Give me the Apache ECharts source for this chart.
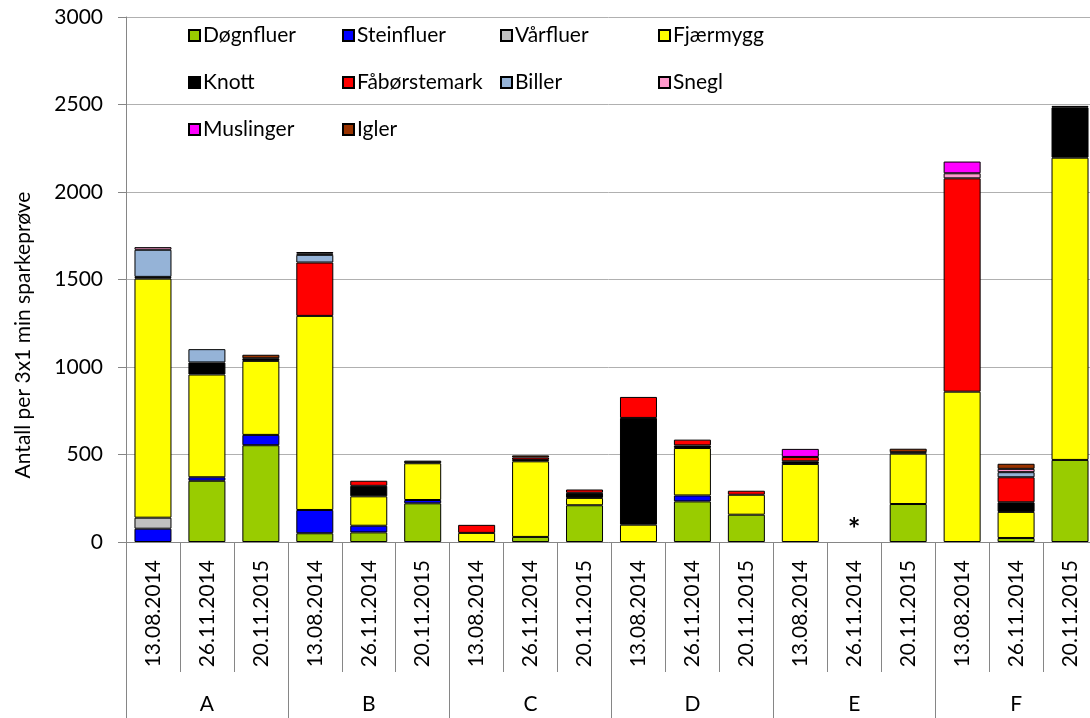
<!DOCTYPE html>
<html>
<head>
<meta charset="utf-8">
<script src="https://cdn.jsdelivr.net/npm/echarts@6/dist/echarts.min.js"></script>
<style>html,body{margin:0;padding:0;background:#fff;}#c{width:1090px;height:718px;}</style>
</head>
<body>
<div id="c"></div>
<script>
const dates = ['13.08.2014','26.11.2014','20.11.2015','13.08.2014','26.11.2014','20.11.2015','13.08.2014','26.11.2014','20.11.2015','13.08.2014','26.11.2014','20.11.2015','13.08.2014','26.11.2014','20.11.2015','13.08.2014','26.11.2014','20.11.2015'];
const groups = ['A','B','C','D','E','F'];
const yTicks = [0, 500, 1000, 1500, 2000, 2500, 3000];
const seriesNames = ['Døgnfluer','Steinfluer','Vårfluer','Fjærmygg','Knott','Fåbørstemark','Biller','Snegl','Muslinger','Igler'];
const dognfluer    = [0, 350, 553, 50, 55, 221, 0, 29, 210, 0, 232, 156, 0, 0, 217, 0, 23, 469];
const steinfluer   = [76, 20, 59, 133, 38, 19, 0, 0, 0, 0, 34, 0, 0, 0, 0, 0, 0, 0];
const varfluer     = [63, 0, 0, 0, 0, 0, 0, 0, 0, 0, 0, 0, 0, 0, 0, 0, 0, 0];
const fjaermygg    = [1366, 587, 423, 1109, 168, 210, 52, 432, 42, 99, 271, 114, 446, 0, 288, 859, 149, 1727];
const knott        = [10, 69, 15, 0, 60, 15, 0, 8, 29, 610, 15, 0, 15, 0, 8, 0, 55, 288];
const faborstemark = [0, 0, 0, 305, 29, 0, 46, 14, 19, 120, 33, 23, 25, 0, 0, 1219, 143, 0];
const biller       = [155, 76, 0, 44, 0, 0, 0, 0, 0, 0, 0, 0, 0, 0, 0, 0, 29, 0];
const snegl        = [15, 0, 0, 8, 0, 0, 0, 0, 0, 0, 0, 0, 0, 0, 0, 29, 19, 0];
const muslinger    = [0, 0, 0, 8, 0, 0, 0, 0, 0, 0, 0, 0, 46, 0, 0, 67, 0, 0];
const igler        = [0, 0, 20, 0, 0, 0, 0, 12, 0, 0, 0, 0, 0, 0, 20, 0, 29, 8];
const missingIndex = 13;
const missingMark = '*';

const allData = [dognfluer, steinfluer, varfluer, fjaermygg, knott, faborstemark, biller, snegl, muslinger, igler];
const colors = ['#99CC00','#0000FF','#C0C0C0','#FFFF00','#000000','#FF0000','#95B3D7','#FF99CC','#FF00FF','#993300'];
const FONT = 'Lato, "Open Sans", sans-serif';

const legendCols = [188, 342, 500, 658];
const legendRows = [37, 84, 131];

const series = seriesNames.map((name, i) => {
  const s = {
    name: name,
    type: 'bar',
    stack: 'total',
    barWidth: 37,
    xAxisIndex: 0,
    yAxisIndex: 0,
    itemStyle: { color: colors[i], borderColor: '#000', borderWidth: 1 },
    emphasis: { disabled: true },
    data: allData[i].map(v => v === 0 ? '-' : v)
  };
  if (i === 0) {
    s.markPoint = {
      symbol: 'rect', symbolSize: 1,
      itemStyle: { color: 'rgba(0,0,0,0)' },
      label: { show: true, formatter: missingMark, fontSize: 30, fontFamily: FONT, color: '#000', position: 'inside', fontWeight: 'bold' },
      data: [{ coord: [missingIndex, 68] }]
    };
  }
  return s;
});

const legends = seriesNames.map((name, i) => ({
  data: [name],
  left: legendCols[i % 4],
  top: legendRows[Math.floor(i / 4)] - 12,
  padding: 0,
  itemWidth: 11, itemHeight: 11,
  icon: 'rect',
  selectedMode: false,
  textStyle: { fontSize: 21, fontFamily: FONT, color: '#000', padding: [0, 0, 0, -2] }
}));

const chart = echarts.init(document.getElementById('c'), null, { renderer: 'canvas' });
chart.setOption({
  animation: false,
  backgroundColor: '#fff',
  legend: legends,
  grid: { left: 126, width: 971, top: 17, bottom: 176, containLabel: false, outerBoundsMode: 'none' },
  xAxis: [
    {
      type: 'category', data: dates, position: 'bottom',
      axisLine: { show: true, lineStyle: { color: '#868686', width: 1 } },
      axisTick: { show: true, interval: 0, length: 130, lineStyle: { color: '#868686' } },
      axisLabel: { interval: 0, rotate: 90, margin: 18, fontSize: 21, fontFamily: FONT, color: '#000' }
    },
    {
      type: 'category', data: groups, position: 'bottom',
      axisLine: { show: false },
      axisTick: { show: true, interval: 0, length: 180, lineStyle: { color: '#868686' } },
      axisLabel: { interval: 0, margin: 152, fontSize: 21, fontFamily: FONT, color: '#000' }
    }
  ],
  yAxis: {
    type: 'value', min: 0, max: 3000, interval: 500,
    axisLine: { show: true, lineStyle: { color: '#868686' } },
    axisTick: { show: true, length: 8, lineStyle: { color: '#868686' } },
    axisLabel: { margin: 23, fontSize: 21, fontFamily: FONT, color: '#000',
      formatter: v => yTicks.includes(v) ? String(v) : '' },
    splitLine: { show: true, lineStyle: { color: '#b0b0b0', width: 1 } }
  },
  graphic: [{
    type: 'text', x: 23, y: 335, rotation: Math.PI / 2,
    style: { text: 'Antall per 3x1 min sparkeprøve', fontSize: 21, fontFamily: FONT, fill: '#000', align: 'center', verticalAlign: 'middle' }
  }],
  series: series
});
</script>
</body>
</html>
